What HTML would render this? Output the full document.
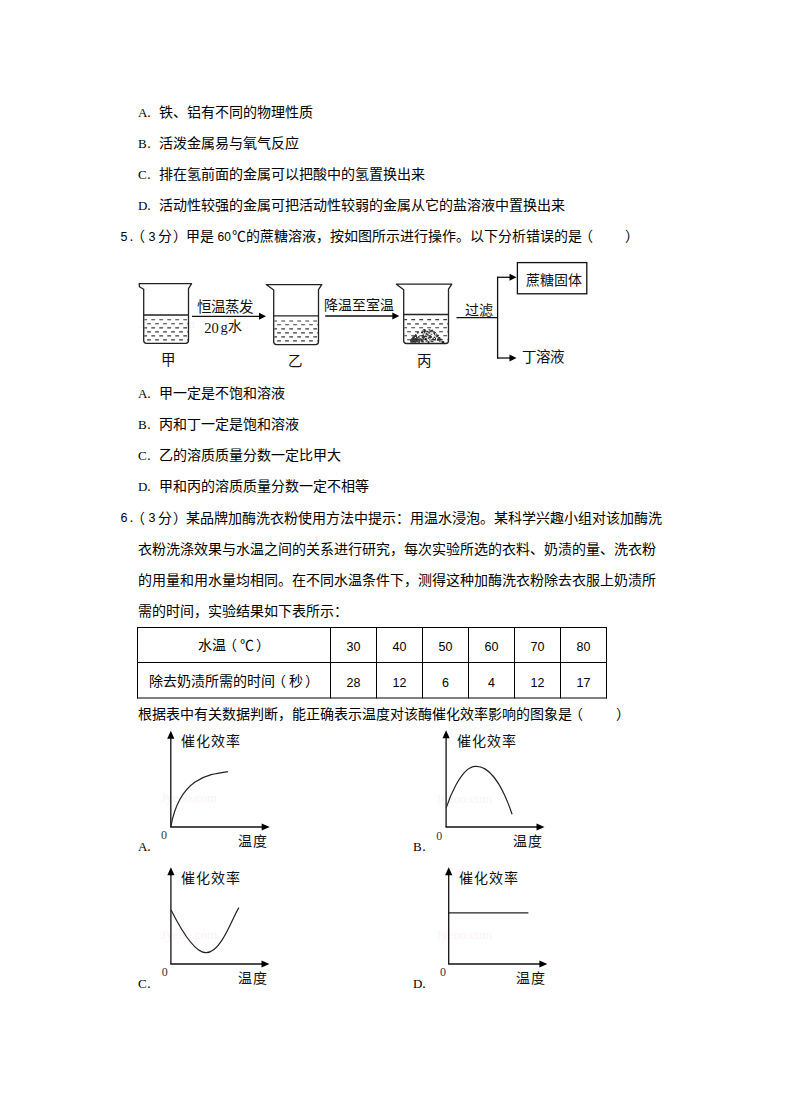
<!DOCTYPE html>
<html lang="zh-CN"><head><meta charset="utf-8">
<style>
html,body{margin:0;padding:0;background:#fff;width:790px;height:1119px;overflow:hidden}
body{position:relative;font-family:"Liberation Sans",sans-serif;color:#000}
.t,.num{position:absolute;font-size:14px;line-height:14px;height:14px;white-space:pre}
.l{position:absolute;white-space:pre;color:#111}
.num{width:40px;text-align:center;font-size:12.5px}
.abs{position:absolute}
.wm{position:absolute;font-family:'Liberation Serif',serif;font-size:13px;line-height:13px;color:#fcf1f4;white-space:pre}
.la{display:inline-block;width:7px;text-align:center;font-size:12.5px}
.dot{display:inline-block;width:14px;text-align:left;padding-left:2px;box-sizing:border-box}
.sm{font-size:12px}
.lp{position:relative;left:-3px}
.ls{font-family:'Liberation Serif',serif;font-size:13px}
.rp{position:relative;left:1.5px}
</style></head><body>
<div class="wm" style="left:161.2px;top:790.6px">Jyeoo.com</div>
<div class="wm" style="left:436.3px;top:792.0px">Jyeoo.com</div>
<div class="wm" style="left:161.3px;top:927.9px">Jyeoo.com</div>
<div class="wm" style="left:436.3px;top:927.9px">Jyeoo.com</div>
<div class="wm" style="left:139px;top:317.2px;color:#f3f3f3">Jyeoo.com</div>
<svg class="abs" width="790" height="1119" style="left:0;top:0"><path d="M139.2,283.7 L191.6,283.7 L188.5,288.7 L188.5,340.5 Q188.5,343.3 185.7,343.3 L146.5,343.3 Q143.7,343.3 143.7,340.5 L143.7,289.2 L139.39999999999998,286.7 Z" fill="none" stroke="#222" stroke-width="1.3" stroke-linejoin="round"/><line x1="143.7" y1="315.0" x2="188.5" y2="315.0" stroke="#222" stroke-width="1.3"/><clipPath id="c143"><rect x="144.29999999999998" y="315.0" width="43.60000000000001" height="28.30000000000001"/></clipPath><g clip-path="url(#c143)"><line x1="143.29999999999998" y1="319.8" x2="188.5" y2="319.8" stroke="#3a3a3a" stroke-width="1.1" stroke-dasharray="3.8 4.2"/><line x1="147.1" y1="323.8" x2="188.5" y2="323.8" stroke="#3a3a3a" stroke-width="1.1" stroke-dasharray="3.8 4.2"/><line x1="143.29999999999998" y1="327.9" x2="188.5" y2="327.9" stroke="#3a3a3a" stroke-width="1.1" stroke-dasharray="3.8 4.2"/><line x1="147.1" y1="331.9" x2="188.5" y2="331.9" stroke="#3a3a3a" stroke-width="1.1" stroke-dasharray="3.8 4.2"/><line x1="143.29999999999998" y1="335.9" x2="188.5" y2="335.9" stroke="#3a3a3a" stroke-width="1.1" stroke-dasharray="3.8 4.2"/><line x1="147.1" y1="339.9" x2="188.5" y2="339.9" stroke="#3a3a3a" stroke-width="1.1" stroke-dasharray="3.8 4.2"/></g><path d="M266.2,284.6 L321.8,284.6 L318.5,289.6 L318.5,341.8 Q318.5,344.6 315.7,344.6 L276.5,344.6 Q273.7,344.6 273.7,341.8 L273.7,290.1 Z" fill="none" stroke="#222" stroke-width="1.3" stroke-linejoin="round"/><line x1="273.7" y1="315.9" x2="318.5" y2="315.9" stroke="#222" stroke-width="1.3"/><clipPath id="c273"><rect x="274.3" y="315.9" width="43.60000000000001" height="28.700000000000045"/></clipPath><g clip-path="url(#c273)"><line x1="273.3" y1="321" x2="318.5" y2="321" stroke="#3a3a3a" stroke-width="1.1" stroke-dasharray="3.8 4.2"/><line x1="277.09999999999997" y1="324.8" x2="318.5" y2="324.8" stroke="#3a3a3a" stroke-width="1.1" stroke-dasharray="3.8 4.2"/><line x1="273.3" y1="328.9" x2="318.5" y2="328.9" stroke="#3a3a3a" stroke-width="1.1" stroke-dasharray="3.8 4.2"/><line x1="277.09999999999997" y1="332.9" x2="318.5" y2="332.9" stroke="#3a3a3a" stroke-width="1.1" stroke-dasharray="3.8 4.2"/><line x1="273.3" y1="336.9" x2="318.5" y2="336.9" stroke="#3a3a3a" stroke-width="1.1" stroke-dasharray="3.8 4.2"/><line x1="277.09999999999997" y1="340.9" x2="318.5" y2="340.9" stroke="#3a3a3a" stroke-width="1.1" stroke-dasharray="3.8 4.2"/></g><path d="M396.4,284.2 L451.8,284.2 L448.5,289.2 L448.5,340.7 Q448.5,343.5 445.7,343.5 L406.5,343.5 Q403.7,343.5 403.7,340.7 L403.7,289.7 Z" fill="none" stroke="#222" stroke-width="1.3" stroke-linejoin="round"/><line x1="403.7" y1="314.5" x2="448.5" y2="314.5" stroke="#222" stroke-width="1.3"/><clipPath id="c403"><rect x="404.3" y="314.5" width="43.60000000000001" height="29.0"/></clipPath><g clip-path="url(#c403)"><line x1="403.3" y1="319.6" x2="448.5" y2="319.6" stroke="#3a3a3a" stroke-width="1.1" stroke-dasharray="3.8 4.2"/><line x1="407.09999999999997" y1="323.9" x2="448.5" y2="323.9" stroke="#3a3a3a" stroke-width="1.1" stroke-dasharray="3.8 4.2"/><line x1="403.3" y1="327.8" x2="448.5" y2="327.8" stroke="#3a3a3a" stroke-width="1.1" stroke-dasharray="3.8 4.2"/><line x1="407.09999999999997" y1="331.8" x2="448.5" y2="331.8" stroke="#3a3a3a" stroke-width="1.1" stroke-dasharray="3.8 4.2"/><line x1="403.3" y1="335.7" x2="448.5" y2="335.7" stroke="#3a3a3a" stroke-width="1.1" stroke-dasharray="3.8 4.2"/><line x1="407.09999999999997" y1="339.7" x2="448.5" y2="339.7" stroke="#3a3a3a" stroke-width="1.1" stroke-dasharray="3.8 4.2"/></g><g opacity="0.85"><rect x="420.7" y="340.3" width="1.7" height="1.0" fill="#111"/><rect x="427.7" y="337.7" width="1.1" height="1.4" fill="#111"/><rect x="411.2" y="340.2" width="1.1" height="1.0" fill="#111"/><rect x="424.0" y="330.9" width="1.1" height="1.1" fill="#111"/><rect x="430.7" y="330.1" width="1.6" height="1.3" fill="#111"/><rect x="442.2" y="341.5" width="1.9" height="1.2" fill="#111"/><rect x="414.8" y="340.9" width="1.3" height="1.6" fill="#111"/><rect x="416.0" y="336.8" width="1.6" height="1.2" fill="#111"/><rect x="428.1" y="341.1" width="1.1" height="1.1" fill="#111"/><rect x="432.5" y="337.6" width="1.3" height="1.4" fill="#111"/><rect x="425.0" y="338.5" width="1.8" height="1.5" fill="#111"/><rect x="418.1" y="336.1" width="1.5" height="1.7" fill="#111"/><rect x="434.1" y="339.4" width="2.0" height="1.0" fill="#111"/><rect x="423.8" y="332.1" width="1.2" height="1.3" fill="#111"/><rect x="411.3" y="339.2" width="1.8" height="1.4" fill="#111"/><rect x="438.9" y="340.3" width="1.7" height="1.4" fill="#111"/><rect x="429.1" y="336.7" width="1.8" height="1.8" fill="#111"/><rect x="425.6" y="333.4" width="1.1" height="1.5" fill="#111"/><rect x="431.4" y="329.7" width="1.8" height="1.2" fill="#111"/><rect x="422.7" y="333.6" width="1.0" height="1.3" fill="#111"/><rect x="415.5" y="340.9" width="1.1" height="1.6" fill="#111"/><rect x="414.3" y="340.2" width="1.4" height="1.7" fill="#111"/><rect x="412.7" y="339.4" width="1.5" height="1.7" fill="#111"/><rect x="437.0" y="335.5" width="1.3" height="1.3" fill="#111"/><rect x="421.8" y="330.5" width="2.0" height="1.0" fill="#111"/><rect x="415.8" y="340.0" width="1.2" height="1.3" fill="#111"/><rect x="429.4" y="339.1" width="1.0" height="1.3" fill="#111"/><rect x="422.2" y="335.1" width="2.0" height="1.5" fill="#111"/><rect x="427.0" y="334.2" width="1.7" height="0.9" fill="#111"/><rect x="439.7" y="338.6" width="1.9" height="1.6" fill="#111"/><rect x="422.9" y="337.3" width="1.1" height="1.5" fill="#111"/><rect x="412.1" y="341.3" width="1.2" height="1.0" fill="#111"/><rect x="421.2" y="341.2" width="1.0" height="1.0" fill="#111"/><rect x="413.3" y="339.7" width="1.0" height="1.7" fill="#111"/><rect x="430.3" y="340.4" width="1.3" height="1.2" fill="#111"/><rect x="422.0" y="340.6" width="1.8" height="1.8" fill="#111"/><rect x="425.4" y="336.1" width="1.1" height="1.0" fill="#111"/><rect x="421.3" y="339.1" width="1.8" height="1.0" fill="#111"/><rect x="410.8" y="338.6" width="1.5" height="1.0" fill="#111"/><rect x="427.9" y="341.4" width="1.5" height="1.8" fill="#111"/><rect x="438.5" y="338.0" width="1.3" height="1.2" fill="#111"/><rect x="415.5" y="335.2" width="1.5" height="1.6" fill="#111"/><rect x="420.9" y="339.6" width="1.8" height="1.8" fill="#111"/><rect x="438.1" y="337.0" width="1.8" height="1.6" fill="#111"/><rect x="417.5" y="336.9" width="1.4" height="0.9" fill="#111"/><rect x="410.9" y="340.8" width="1.3" height="1.5" fill="#111"/><rect x="441.6" y="341.1" width="1.9" height="1.8" fill="#111"/><rect x="441.5" y="341.1" width="1.2" height="1.1" fill="#111"/><rect x="416.5" y="340.2" width="1.6" height="1.7" fill="#111"/><rect x="437.7" y="339.0" width="1.7" height="1.6" fill="#111"/><rect x="412.8" y="338.0" width="1.9" height="1.6" fill="#111"/><rect x="434.8" y="337.8" width="1.2" height="1.6" fill="#111"/><rect x="421.0" y="332.0" width="2.0" height="1.3" fill="#111"/><rect x="423.2" y="329.1" width="1.7" height="1.1" fill="#111"/><rect x="414.2" y="340.8" width="1.9" height="1.6" fill="#111"/><rect x="414.8" y="335.2" width="2.0" height="1.5" fill="#111"/><rect x="421.6" y="335.5" width="1.1" height="0.9" fill="#111"/><rect x="442.0" y="341.2" width="1.5" height="1.7" fill="#111"/><rect x="424.3" y="330.2" width="1.8" height="1.1" fill="#111"/><rect x="418.3" y="339.1" width="1.2" height="1.4" fill="#111"/><rect x="418.6" y="337.7" width="1.1" height="1.7" fill="#111"/><rect x="421.7" y="336.7" width="1.6" height="1.7" fill="#111"/><rect x="423.9" y="329.5" width="1.5" height="1.4" fill="#111"/><rect x="427.3" y="341.4" width="1.4" height="1.1" fill="#111"/><rect x="410.1" y="339.8" width="1.2" height="1.3" fill="#111"/><rect x="433.9" y="336.6" width="1.3" height="1.4" fill="#111"/><rect x="428.3" y="331.8" width="1.1" height="1.4" fill="#111"/><rect x="418.2" y="339.3" width="1.8" height="1.4" fill="#111"/><rect x="428.5" y="332.2" width="1.9" height="1.3" fill="#111"/><rect x="430.2" y="336.2" width="1.5" height="1.5" fill="#111"/><rect x="424.9" y="335.4" width="1.5" height="1.7" fill="#111"/><rect x="433.1" y="332.4" width="1.9" height="1.1" fill="#111"/><rect x="428.5" y="329.3" width="1.8" height="1.0" fill="#111"/><rect x="414.0" y="338.9" width="1.1" height="1.1" fill="#111"/><rect x="412.4" y="338.3" width="1.8" height="1.7" fill="#111"/><rect x="415.1" y="336.0" width="1.7" height="1.0" fill="#111"/><rect x="439.1" y="337.1" width="1.2" height="1.8" fill="#111"/><rect x="423.1" y="336.1" width="2.0" height="1.6" fill="#111"/><rect x="415.3" y="338.5" width="1.5" height="1.2" fill="#111"/><rect x="416.5" y="339.2" width="1.7" height="0.9" fill="#111"/><rect x="428.3" y="336.8" width="1.0" height="1.2" fill="#111"/><rect x="430.6" y="336.2" width="1.1" height="1.8" fill="#111"/><rect x="436.0" y="333.6" width="1.1" height="1.1" fill="#111"/><rect x="411.3" y="338.7" width="1.3" height="1.0" fill="#111"/><rect x="423.9" y="329.6" width="1.8" height="1.1" fill="#111"/><rect x="414.9" y="334.2" width="1.6" height="1.5" fill="#111"/><rect x="413.0" y="341.3" width="1.7" height="1.3" fill="#111"/><rect x="412.4" y="336.6" width="1.6" height="1.6" fill="#111"/><rect x="412.8" y="336.8" width="1.1" height="1.7" fill="#111"/><rect x="425.0" y="338.0" width="1.6" height="1.7" fill="#111"/><rect x="418.8" y="340.6" width="1.5" height="1.1" fill="#111"/><rect x="413.6" y="340.8" width="1.1" height="1.1" fill="#111"/><rect x="420.3" y="338.7" width="1.8" height="1.2" fill="#111"/><rect x="426.5" y="339.9" width="1.3" height="0.9" fill="#111"/><rect x="418.3" y="341.4" width="1.7" height="1.4" fill="#111"/><rect x="416.3" y="337.8" width="1.9" height="1.0" fill="#111"/><rect x="437.0" y="339.0" width="1.5" height="1.7" fill="#111"/><rect x="423.0" y="335.9" width="1.7" height="1.8" fill="#111"/><rect x="421.3" y="331.4" width="1.7" height="1.5" fill="#111"/><rect x="423.4" y="338.0" width="1.1" height="1.0" fill="#111"/><rect x="412.3" y="337.9" width="1.3" height="1.0" fill="#111"/><rect x="412.8" y="336.8" width="1.9" height="1.5" fill="#111"/><rect x="419.3" y="339.5" width="1.3" height="1.3" fill="#111"/><rect x="415.2" y="338.4" width="1.3" height="1.8" fill="#111"/><rect x="442.1" y="341.3" width="1.2" height="1.8" fill="#111"/><rect x="420.2" y="338.1" width="1.0" height="1.2" fill="#111"/><rect x="425.7" y="335.8" width="1.2" height="1.4" fill="#111"/><rect x="410.2" y="341.1" width="1.1" height="1.3" fill="#111"/><rect x="411.4" y="341.5" width="1.3" height="1.1" fill="#111"/><rect x="429.3" y="335.7" width="1.8" height="1.5" fill="#111"/><rect x="433.6" y="332.7" width="1.4" height="1.2" fill="#111"/><rect x="442.5" y="341.5" width="1.7" height="1.5" fill="#111"/><rect x="411.4" y="338.3" width="1.9" height="1.5" fill="#111"/><rect x="434.2" y="333.9" width="1.1" height="1.4" fill="#111"/><rect x="426.6" y="330.8" width="1.8" height="1.6" fill="#111"/><rect x="429.3" y="330.4" width="1.7" height="1.5" fill="#111"/><rect x="417.6" y="341.4" width="1.1" height="1.2" fill="#111"/><rect x="413.5" y="336.2" width="1.6" height="1.5" fill="#111"/><rect x="430.7" y="333.9" width="1.5" height="0.9" fill="#111"/><rect x="436.3" y="336.0" width="1.5" height="1.4" fill="#111"/><rect x="431.8" y="341.1" width="1.7" height="1.1" fill="#111"/><rect x="412.5" y="340.5" width="1.7" height="1.1" fill="#111"/><rect x="434.4" y="332.1" width="1.5" height="1.2" fill="#111"/><rect x="425.8" y="333.1" width="1.8" height="1.5" fill="#111"/><rect x="431.2" y="341.0" width="1.1" height="1.1" fill="#111"/><rect x="434.5" y="339.3" width="1.6" height="0.9" fill="#111"/><rect x="412.0" y="340.6" width="1.7" height="1.5" fill="#111"/><rect x="432.3" y="339.1" width="1.5" height="1.3" fill="#111"/><rect x="425.4" y="340.6" width="1.9" height="1.1" fill="#111"/><rect x="442.3" y="341.0" width="1.0" height="1.3" fill="#111"/><rect x="437.1" y="334.7" width="1.4" height="1.1" fill="#111"/><rect x="416.9" y="332.2" width="1.2" height="1.4" fill="#111"/><rect x="414.7" y="338.0" width="2.0" height="1.0" fill="#111"/><rect x="437.1" y="338.4" width="1.9" height="1.5" fill="#111"/><rect x="417.6" y="332.3" width="1.5" height="0.9" fill="#111"/></g><line x1="192" y1="316.3" x2="259.5" y2="316.3" stroke="#111" stroke-width="1.3"/><path d="M266,316.3 L259,312.8 L259,319.8 Z" fill="#000"/><line x1="325.2" y1="316.0" x2="392.8" y2="316.0" stroke="#111" stroke-width="1.3"/><path d="M399.3,316.0 L392.3,312.5 L392.3,319.5 Z" fill="#000"/><line x1="456.5" y1="317.7" x2="497.6" y2="317.7" stroke="#111" stroke-width="1.3"/><line x1="497.6" y1="276.7" x2="497.6" y2="358.6" stroke="#111" stroke-width="1.3"/><line x1="497" y1="277.3" x2="510.0" y2="277.3" stroke="#111" stroke-width="1.3"/><path d="M516.5,277.3 L509.5,273.8 L509.5,280.8 Z" fill="#000"/><line x1="497" y1="358.0" x2="510.0" y2="358.0" stroke="#111" stroke-width="1.3"/><path d="M516.5,358.0 L509.5,354.5 L509.5,361.5 Z" fill="#000"/><rect x="517.4" y="262.6" width="69.4" height="31.2" fill="none" stroke="#111" stroke-width="1.3"/><line x1="170.8" y1="827" x2="170.8" y2="737.7" stroke="#111" stroke-width="1.3"/><path d="M170.8,730.7 L167.20000000000002,738.7 L174.4,738.7 Z" fill="#000"/><line x1="170.20000000000002" y1="827" x2="262.7" y2="827" stroke="#111" stroke-width="1.3"/><path d="M269.7,827 L261.7,823.5 L261.7,830.5 Z" fill="#000"/><path d="M170.8,826.6 C180.0,777.0 209.5,774.2 227.9,771.6" fill="none" stroke="#222" stroke-width="1.2"/><line x1="446.1" y1="827" x2="446.1" y2="737.3" stroke="#111" stroke-width="1.3"/><path d="M446.1,730.3 L442.5,738.3 L449.70000000000005,738.3 Z" fill="#000"/><line x1="445.5" y1="827" x2="537.5" y2="827" stroke="#111" stroke-width="1.3"/><path d="M544.5,827 L536.5,823.5 L536.5,830.5 Z" fill="#000"/><path d="M446.3,807.6 C447.9,802.7 460.8,765.4 476.0,766.3 C493.9,766.0 506.8,798.6 512.1,814.2" fill="none" stroke="#222" stroke-width="1.2"/><line x1="170.9" y1="964" x2="170.9" y2="874.2" stroke="#111" stroke-width="1.3"/><path d="M170.9,867.2 L167.3,875.2 L174.5,875.2 Z" fill="#000"/><line x1="170.3" y1="964" x2="262.5" y2="964" stroke="#111" stroke-width="1.3"/><path d="M269.5,964 L261.5,960.5 L261.5,967.5 Z" fill="#000"/><path d="M171.1,910.1 C182.4,932.6 196.0,953.1 206.0,952.7 C221.5,953.0 233.4,915.2 238.9,907.6" fill="none" stroke="#222" stroke-width="1.2"/><line x1="448.7" y1="964" x2="448.7" y2="874.3" stroke="#111" stroke-width="1.3"/><path d="M448.7,867.3 L445.09999999999997,875.3 L452.3,875.3 Z" fill="#000"/><line x1="448.09999999999997" y1="964" x2="540.4" y2="964" stroke="#111" stroke-width="1.3"/><path d="M547.4,964 L539.4,960.5 L539.4,967.5 Z" fill="#000"/><line x1="449" y1="912.8" x2="528.4" y2="912.8" stroke="#222" stroke-width="1.3"/></svg>
<div class="t" style="left:138px;top:105.0px;"><span class="la ls">A</span><span class="dot">.</span></div>
<div class="t" style="left:159px;top:105.0px;">铁、铝有不同的物理性质</div>
<div class="t" style="left:138px;top:136.0px;"><span class="la ls">B</span><span class="dot">.</span></div>
<div class="t" style="left:159px;top:136.0px;">活泼金属易与氧气反应</div>
<div class="t" style="left:138px;top:167.0px;"><span class="la ls">C</span><span class="dot">.</span></div>
<div class="t" style="left:159px;top:167.0px;">排在氢前面的金属可以把酸中的氢置换出来</div>
<div class="t" style="left:138px;top:198.0px;"><span class="la ls">D</span><span class="dot">.</span></div>
<div class="t" style="left:159px;top:198.0px;">活动性较强的金属可把活动性较弱的金属从它的盐溶液中置换出来</div>
<div class="t" style="left:120.5px;top:229.0px;"><span class="la">5</span><span class="dot">.</span></div>
<div class="t" style="left:134px;top:229.0px;"><span class="lp">（</span></div>
<div class="t" style="left:148.5px;top:229.0px;"><span class="la">3</span></div>
<div class="t" style="left:157.5px;top:229.0px;">分</div>
<div class="t" style="left:171.5px;top:229.0px;"><span class="rp">）</span></div>
<div class="t" style="left:185.5px;top:229.0px;">甲是</div>
<div class="t" style="left:217.5px;top:229.0px;"><span class="sm">60</span></div>
<div class="t" style="left:231.5px;top:229.0px;">℃</div>
<div class="t" style="left:245.5px;top:229.0px;">的蔗糖溶液，按如图所示进行操作。以下分析错误的是<span class="lp">（</span></div>
<div class="t" style="left:623.5px;top:229.0px;"><span class="rp">）</span></div>
<div class="t" style="left:138px;top:386.0px;"><span class="la ls">A</span><span class="dot">.</span></div>
<div class="t" style="left:159px;top:386.0px;">甲一定是不饱和溶液</div>
<div class="t" style="left:138px;top:417.0px;"><span class="la ls">B</span><span class="dot">.</span></div>
<div class="t" style="left:159px;top:417.0px;">丙和丁一定是饱和溶液</div>
<div class="t" style="left:138px;top:448.0px;"><span class="la ls">C</span><span class="dot">.</span></div>
<div class="t" style="left:159px;top:448.0px;">乙的溶质质量分数一定比甲大</div>
<div class="t" style="left:138px;top:479.0px;"><span class="la ls">D</span><span class="dot">.</span></div>
<div class="t" style="left:159px;top:479.0px;">甲和丙的溶质质量分数一定不相等</div>
<div class="t" style="left:120.5px;top:510.0px;"><span class="la">6</span><span class="dot">.</span></div>
<div class="t" style="left:134px;top:511.0px;"><span class="lp">（</span></div>
<div class="t" style="left:148.5px;top:510.0px;"><span class="la">3</span></div>
<div class="t" style="left:157.5px;top:511.0px;">分</div>
<div class="t" style="left:171.5px;top:511.0px;"><span class="rp">）</span></div>
<div class="t" style="left:185.5px;top:511.0px;">某品牌加酶洗衣粉使用方法中提示：用温水浸泡。某科学兴趣小组对该加酶洗</div>
<div class="t" style="left:138px;top:542.0px;">衣粉洗涤效果与水温之间的关系进行研究，每次实验所选的衣料、奶渍的量、洗衣粉</div>
<div class="t" style="left:138px;top:573.0px;">的用量和用水量均相同。在不同水温条件下，测得这种加酶洗衣粉除去衣服上奶渍所</div>
<div class="t" style="left:138px;top:604.0px;">需的时间，实验结果如下表所示：</div>
<div class="t" style="left:138px;top:707.0px;">根据表中有关数据判断，能正确表示温度对该酶催化效率影响的图象是<span class="lp">（</span></div>
<div class="t" style="left:614px;top:707.0px;"><span class="rp">）</span></div>
<div class="t" style="left:138px;top:839.0px;"><span class="la ls">A</span><span class="dot">.</span></div>
<div class="t" style="left:413px;top:839.0px;"><span class="la ls">B</span><span class="dot">.</span></div>
<div class="t" style="left:138px;top:976.0px;"><span class="la ls">C</span><span class="dot">.</span></div>
<div class="t" style="left:413px;top:976.0px;"><span class="la ls">D</span><span class="dot">.</span></div>
<svg class="abs" width="790" height="1119" style="left:0;top:0" stroke="#000" stroke-width="1"><line x1="137.5" y1="627.0" x2="137.5" y2="698.5"/><line x1="330.5" y1="627.0" x2="330.5" y2="698.5"/><line x1="376.5" y1="627.0" x2="376.5" y2="698.5"/><line x1="422.5" y1="627.0" x2="422.5" y2="698.5"/><line x1="468.5" y1="627.0" x2="468.5" y2="698.5"/><line x1="514.5" y1="627.0" x2="514.5" y2="698.5"/><line x1="560.5" y1="627.0" x2="560.5" y2="698.5"/><line x1="606.5" y1="627.0" x2="606.5" y2="698.5"/><line x1="137.0" y1="627.5" x2="607.0" y2="627.5"/><line x1="137.0" y1="662.5" x2="607.0" y2="662.5"/><line x1="137.0" y1="698" x2="607.0" y2="698"/></svg>
<div class="num" style="left:333.5px;top:640.0px">30</div>
<div class="num" style="left:333.5px;top:676.0px">28</div>
<div class="num" style="left:379.5px;top:640.0px">40</div>
<div class="num" style="left:379.5px;top:676.0px">12</div>
<div class="num" style="left:425.5px;top:640.0px">50</div>
<div class="num" style="left:425.5px;top:676.0px">6</div>
<div class="num" style="left:471.5px;top:640.0px">60</div>
<div class="num" style="left:471.5px;top:676.0px">4</div>
<div class="num" style="left:517.5px;top:640.0px">70</div>
<div class="num" style="left:517.5px;top:676.0px">12</div>
<div class="num" style="left:563.5px;top:640.0px">80</div>
<div class="num" style="left:563.5px;top:676.0px">17</div>
<div class="t" style="left:198px;top:638.0px">水温<span class="lp">（</span>℃<span class="rp">）</span></div>
<div class="t" style="left:149px;top:673.5px">除去奶渍所需的时间<span class="lp">（</span>秒<span class="rp">）</span></div>
<div class="l" style="left:197.1px;top:300.4px;font-size:14.5px;line-height:14.5px;">恒温蒸发</div>
<div class="l" style="left:204.2px;top:320.6px;font-size:14.5px;line-height:14.5px;font-family:Liberation Serif;">20</div>
<div class="l" style="left:220.4px;top:320.3px;font-size:14.5px;line-height:14.5px;font-family:Liberation Serif;">g</div>
<div class="l" style="left:227.5px;top:318.5px;font-size:14px;line-height:14px;">水</div>
<div class="l" style="left:324.2px;top:298.0px;font-size:14px;line-height:14px;">降温至室温</div>
<div class="l" style="left:465.0px;top:303.0px;font-size:14px;line-height:14px;">过滤</div>
<div class="l" style="left:526.0px;top:272.7px;font-size:14px;line-height:14px;">蔗糖固体</div>
<div class="l" style="left:522.3px;top:349.8px;font-size:14.5px;line-height:14.5px;">丁溶液</div>
<div class="l" style="left:160.7px;top:352.5px;font-size:14.5px;line-height:14.5px;">甲</div>
<div class="l" style="left:287.8px;top:353.5px;font-size:14.5px;line-height:14.5px;">乙</div>
<div class="l" style="left:416.7px;top:353.5px;font-size:14.5px;line-height:14.5px;">丙</div>
<div class="l" style="left:181.1px;top:734.2px;font-size:14px;line-height:14px;letter-spacing:1px;">催化效率</div>
<div class="l" style="left:237.7px;top:834.2px;font-size:14px;line-height:14px;letter-spacing:1px;">温度</div>
<div class="l" style="left:161.1px;top:829.0px;font-size:12px;line-height:12px;font-family:Liberation Serif;color:#333;">0</div>
<div class="l" style="left:456.8px;top:734.2px;font-size:14px;line-height:14px;letter-spacing:1px;">催化效率</div>
<div class="l" style="left:513.2px;top:834.2px;font-size:14px;line-height:14px;letter-spacing:1px;">温度</div>
<div class="l" style="left:436.3px;top:829.8px;font-size:12px;line-height:12px;font-family:Liberation Serif;color:#333;">0</div>
<div class="l" style="left:181.0px;top:871.0px;font-size:14px;line-height:14px;letter-spacing:1px;">催化效率</div>
<div class="l" style="left:237.8px;top:970.8px;font-size:14px;line-height:14px;letter-spacing:1px;">温度</div>
<div class="l" style="left:161.7px;top:965.9px;font-size:12px;line-height:12px;font-family:Liberation Serif;color:#333;">0</div>
<div class="l" style="left:459.3px;top:871.0px;font-size:14px;line-height:14px;letter-spacing:1px;">催化效率</div>
<div class="l" style="left:516.0px;top:970.8px;font-size:14px;line-height:14px;letter-spacing:1px;">温度</div>
<div class="l" style="left:440.0px;top:965.9px;font-size:12px;line-height:12px;font-family:Liberation Serif;color:#333;">0</div>
</body></html>
